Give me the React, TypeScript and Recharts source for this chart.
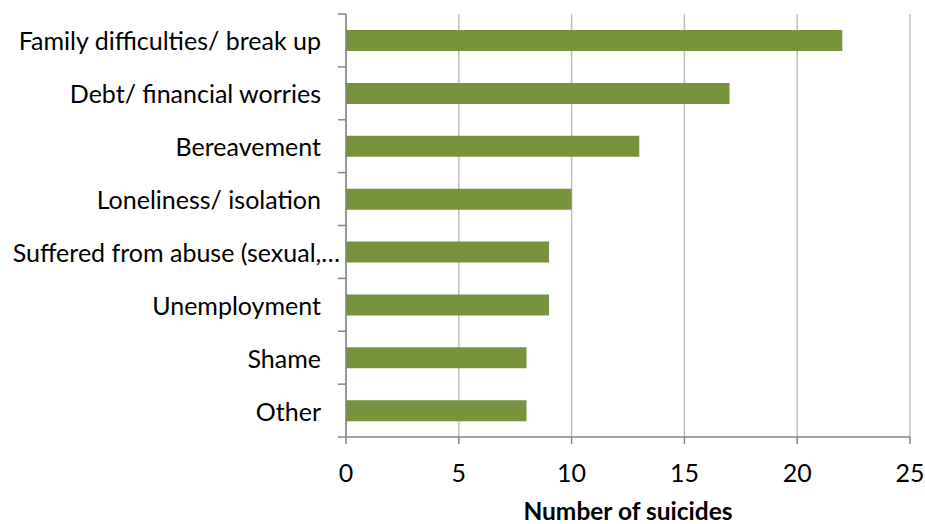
import React from "react";
import { BarChart, Bar, XAxis, YAxis, CartesianGrid } from "recharts";

const categories = [
  "Family difficulties/ break up",
  "Debt/ financial worries",
  "Bereavement",
  "Loneliness/ isolation",
  "Suffered from abuse (sexual,…",
  "Unemployment",
  "Shame",
  "Other",
];
const suicides = [22, 17, 13, 10, 9, 9, 8, 8];
const xTicks = [0, 5, 10, 15, 20, 25];

const data = categories.map((c, i) => ({ name: c, value: suicides[i] }));

const FONT = "Lato, sans-serif";
const FS = 25;
const AXIS = "#868686";
const TOP = 14;
const PLOT_H = 423;
const BAND = PLOT_H / categories.length;

const YTick = (props: any) => {
  const { x, y, payload, index } = props;
  const ax = x + 25;
  const truncated = String(payload.value).endsWith("…");
  return (
    <g>
      <line x1={ax - 8} x2={ax} y1={y - BAND / 2} y2={y - BAND / 2} stroke={AXIS} strokeWidth={1.5} />
      {index === categories.length - 1 ? (
        <line x1={ax - 8} x2={ax} y1={y + BAND / 2} y2={y + BAND / 2} stroke={AXIS} strokeWidth={1.5} />
      ) : null}
      <text
        x={truncated ? ax - 6 : x}
        y={y}
        textAnchor="end"
        dominantBaseline="central"
        fontFamily={FONT}
        fontSize={FS}
        fill="#000"
      >
        {payload.value}
      </text>
    </g>
  );
};

export default function App() {
  return (
    <div style={{ width: 925, height: 524, overflow: "hidden" }}>
      <style>{"html,body{margin:0;padding:0;overflow:hidden;}"}</style>
      <BarChart
        width={925}
        height={524}
        data={data}
        layout="vertical"
        margin={{ top: TOP, right: 15, bottom: 0, left: 0 }}
      >
        <CartesianGrid horizontal={false} stroke="#bfbfbf" strokeWidth={1.5} />
        <XAxis
          type="number"
          domain={[0, 25]}
          ticks={xTicks}
          interval={0}
          axisLine={{ stroke: AXIS, strokeWidth: 1.5 }}
          tickLine={{ stroke: AXIS, strokeWidth: 1.5 }}
          tickSize={7}
          tickMargin={20}
          tick={{ fontFamily: FONT, fontSize: FS, fill: "#000" }}
          label={{
            value: "Number of suicides",
            position: "insideBottom",
            offset: 4,
            style: { fontFamily: FONT, fontSize: 24.5, fontWeight: 700, fill: "#000" },
          }}
          height={87}
        />
        <YAxis
          type="category"
          dataKey="name"
          width={346}
          axisLine={{ stroke: AXIS, strokeWidth: 1.5 }}
          tickLine={false}
          tickMargin={19}
          tick={<YTick />}
          interval={0}
        />
        <Bar dataKey="value" fill="#77933C" barSize={21} isAnimationActive={false} />
      </BarChart>
    </div>
  );
}
